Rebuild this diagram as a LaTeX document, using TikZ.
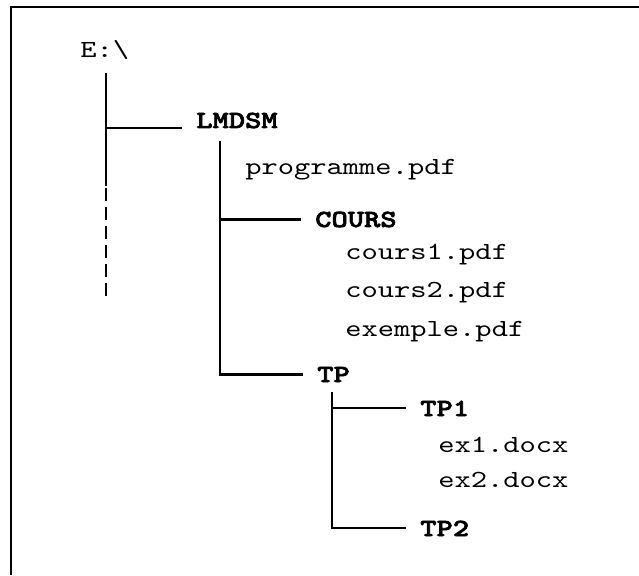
\documentclass[tikz,border=0pt]{standalone}
\usepackage{fontspec}
\setmonofont{lmmono10-regular}[Extension=.otf, FakeStretch=1.26, BoldFont=lmmonolt10-bold, BoldFeatures={FakeBold=2.6}]
\usetikzlibrary{positioning}

\begin{document}
\begin{tikzpicture}[
		tree/.style={line width=1.5pt},
		folder/.style={anchor=base west, inner xsep=0.35cm, inner ysep=0pt, font=\fontsize{17.5}{21}\selectfont\ttfamily\bfseries},
		file/.style={anchor=base west, inner sep=0pt, font=\fontsize{17.5}{21}\selectfont\ttfamily}]
	\useasboundingbox (0,0) rectangle (15.975,14.375);
	\draw[line width=1.2pt] (0.275,0) -- (0.275,14.2) -- (15.975,14.2);
	
	\node[file] (root) at (2.0,12.925) {E:\textbackslash};
	\node[folder] (lmdsm) at (4.55,11.175) {LMDSM};
	\node[file] (prog) at (6.125,10.0) {programme.pdf};
	\node[folder] (cours) at (7.525,8.7) {COURS};
	\node[file] (cours1) at (8.625,7.875) {cours1.pdf};
	\node[file] (cours2) at (8.625,6.925) {cours2.pdf};
	\node[file] (exemple) at (8.625,5.975) {exemple.pdf};
	\node[folder] (tp) at (7.575,4.825) {TP};
	\node[folder] (tp1) at (10.15,3.975) {TP1};
	\node[file] (ex1) at (10.95,3.075) {ex1.docx};
	\node[file] (ex2) at (10.95,2.2) {ex2.docx};
	\node[folder] (tp2) at (10.15,0.975) {TP2};
	
	\coordinate (t0) at (2.65,12.55);
	\coordinate (t1) at (5.5,10.85);
	\coordinate (t2) at (8.3,4.575);
	
	\draw[tree] (t0) -- ++(0,-2.825) coordinate (t0e);
	\draw[tree, dash pattern=on 9pt off 4.5pt] ([yshift=-0.05cm]t0e) -- ++(0,-2.8);
	\draw[tree] (t0) |- (lmdsm.base west);
	
	\draw[tree] (t1) |- (cours.west);
	\draw[tree] (t1) |- (tp.west);
	
	\draw[tree] (t2) |- (tp1.west);
	\draw[tree] (t2) |- (tp2.west);
\end{tikzpicture}
\end{document}
